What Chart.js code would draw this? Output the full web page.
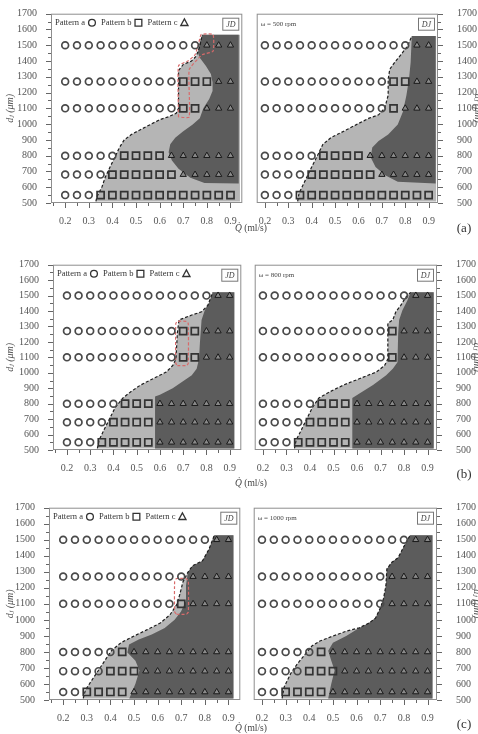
<!DOCTYPE html>
<html>
<head>
<meta charset="utf-8">
<script src="https://cdn.jsdelivr.net/npm/chart.js@4.4.0/dist/chart.umd.min.js"></script>
<style>
  html, body { margin: 0; padding: 0; background: #fff; }
  body { position: relative; width: 478px; height: 734px; overflow: hidden; font-family: "Liberation Serif", "DejaVu Serif", serif; }
  canvas { position: absolute; }
  .note { position: absolute; transform: translate(-50%, -50%); white-space: nowrap; color: #444; }
  .q { font-size: 9.5px; }
  .tag { font-size: 13px; color: #333; }
</style>
</head>
<body>
<script>
// ---- data -------------------------------------------------------------
const flowRates = [0.2, 0.25, 0.3, 0.35, 0.4, 0.45, 0.5, 0.55, 0.6, 0.65, 0.7, 0.75, 0.8, 0.85, 0.9];
const jetDiameters = [550, 680, 800, 1100, 1270, 1500];
const flowTicks = [0.2, 0.3, 0.4, 0.5, 0.6, 0.7, 0.8, 0.9];
const diameterTicks = [500, 600, 700, 800, 900, 1000, 1100, 1200, 1300, 1400, 1500, 1600, 1700];
const patternNames = ['Pattern a', 'Pattern b', 'Pattern c'];
const speedLabels = ['\u03c9 = 500 rpm', '\u03c9 = 800 rpm', '\u03c9 = 1000 rpm'];
const rowTags = ['(a)', '(b)', '(c)'];
const modeTags = ['JD', 'DJ'];

// observed pattern at each (d_j, Q): a = pattern a, b = pattern b, c = pattern c
// one string per jet diameter (same order as jetDiameters), one letter per flow rate
const jd500 = ['aaabbbbbbbbbbbb', 'aaaabbbbbbccccc', 'aaaaabbbbcccccc', 'aaaaaaaaaabbccc', 'aaaaaaaaaabbbcc', 'aaaaaaaaaaaaccc'];
const dj500 = ['aaabbbbbbbbbbbb', 'aaaabbbbbbccccc', 'aaaaabbbbcccccc', 'aaaaaaaaaaabccc', 'aaaaaaaaaaabbcc', 'aaaaaaaaaaaaacc'];
const jd800 = ['aaabbbbbccccccc', 'aaaabbbbccccccc', 'aaaaabbbccccccc', 'aaaaaaaaaabbccc', 'aaaaaaaaaabbccc', 'aaaaaaaaaaaaacc'];
const dj800 = ['aaabbbbbccccccc', 'aaaabbbbccccccc', 'aaaaabbbccccccc', 'aaaaaaaaaaabccc', 'aaaaaaaaaaabccc', 'aaaaaaaaaaaaacc'];
const jd1000 = ['aabbbbccccccccc', 'aaaabbbcccccccc', 'aaaaabccccccccc', 'aaaaaaaaaabcccc', 'aaaaaaaaaaacccc', 'aaaaaaaaaaaaacc'];
const dj1000 = ['aabbbbccccccccc', 'aaaabbbcccccccc', 'aaaaabccccccccc', 'aaaaaaaaaaacccc', 'aaaaaaaaaaacccc', 'aaaaaaaaaaaaacc'];

// dashed outer edge of the shaded band, from the bottom up, as [Q, d_j]
const jd500Edge = [[0.33, 510], [0.335, 541], [0.356, 603], [0.37, 665], [0.39, 728], [0.41, 790], [0.43, 852], [0.45, 900], [0.48, 934], [0.52, 966], [0.56, 997], [0.6, 1028], [0.64, 1048], [0.67, 1069], [0.68, 1100], [0.68, 1340], [0.70, 1378], [0.735, 1400], [0.755, 1431], [0.77, 1493], [0.78, 1566]];
const dj500Edge = [[0.34, 510], [0.346, 562], [0.373, 645], [0.40, 728], [0.428, 810], [0.448, 872], [0.482, 914], [0.537, 955], [0.591, 997], [0.646, 1038], [0.686, 1059], [0.712, 1100], [0.727, 1183], [0.727, 1286], [0.734, 1348], [0.754, 1390], [0.782, 1441], [0.809, 1493], [0.828, 1558]];
const jd800Edge = [[0.331, 510], [0.338, 563], [0.358, 626], [0.379, 689], [0.407, 774], [0.441, 837], [0.476, 879], [0.517, 921], [0.572, 963], [0.627, 1005], [0.655, 1047], [0.669, 1089], [0.675, 1258], [0.682, 1342], [0.737, 1374], [0.779, 1395], [0.806, 1437], [0.827, 1521]];
const dj800Edge = [[0.334, 510], [0.341, 563], [0.362, 626], [0.382, 689], [0.41, 774], [0.438, 837], [0.487, 879], [0.543, 921], [0.612, 963], [0.682, 1005], [0.717, 1047], [0.731, 1089], [0.731, 1321], [0.752, 1342], [0.765, 1395], [0.786, 1437], [0.807, 1489], [0.828, 1521]];
const jd1000Edge = [[0.285, 510], [0.294, 561], [0.321, 623], [0.349, 684], [0.376, 745], [0.404, 807], [0.445, 858], [0.5, 899], [0.556, 939], [0.611, 980], [0.652, 1031], [0.68, 1093], [0.693, 1154], [0.707, 1236], [0.728, 1297], [0.748, 1338], [0.79, 1369], [0.817, 1440], [0.84, 1528]];
const dj1000Edge = [[0.285, 510], [0.294, 582], [0.321, 664], [0.349, 725], [0.383, 786], [0.411, 837], [0.445, 868], [0.5, 899], [0.556, 929], [0.611, 950], [0.652, 980], [0.68, 1011], [0.7, 1072], [0.714, 1134], [0.724, 1215], [0.728, 1317], [0.748, 1358], [0.776, 1389], [0.797, 1450], [0.824, 1522], [0.826, 1528]];

// right limit of the shaded band (Q)
const bandRight = { jd500: 0.94, dj500: 0.932, jd800: 0.92, dj800: 0.926, jd1000: 0.921, dj1000: 0.921 };

// darker core region (pattern c), closed outline as [Q, d_j]
const jd500Core = [[0.78, 1566], [0.935, 1566], [0.935, 624], [0.79, 626], [0.73, 660], [0.68, 717], [0.652, 769], [0.638, 821], [0.645, 872], [0.666, 914], [0.70, 955], [0.74, 997], [0.77, 1038], [0.785, 1100], [0.81, 1160], [0.824, 1210], [0.824, 1266], [0.817, 1317], [0.796, 1369], [0.77, 1421], [0.762, 1452], [0.769, 1514]];
const dj500Core = [[0.828, 1558], [0.93, 1558], [0.93, 624], [0.768, 634], [0.714, 676], [0.673, 728], [0.652, 790], [0.659, 852], [0.686, 893], [0.727, 934], [0.768, 997], [0.79, 1079], [0.805, 1183], [0.816, 1286], [0.823, 1390]];
const jd800Core = [[0.827, 1521], [0.92, 1521], [0.92, 510], [0.579, 510], [0.579, 847], [0.6, 858], [0.655, 900], [0.696, 942], [0.737, 984], [0.758, 1026], [0.768, 1089], [0.772, 1195], [0.779, 1342], [0.793, 1405], [0.813, 1458]];
const dj800Core = [[0.828, 1521], [0.926, 1521], [0.926, 510], [0.58, 510], [0.58, 837], [0.612, 868], [0.668, 921], [0.724, 984], [0.752, 1026], [0.772, 1068], [0.775, 1258], [0.779, 1342], [0.793, 1405], [0.814, 1468]];
const jd1000Core = [[0.84, 1528], [0.921, 1528], [0.921, 510], [0.48, 510], [0.506, 602], [0.523, 684], [0.506, 745], [0.472, 796], [0.479, 847], [0.52, 878], [0.575, 909], [0.63, 950], [0.672, 1001], [0.699, 1052], [0.718, 1113], [0.72, 1215], [0.728, 1297], [0.748, 1338], [0.79, 1369], [0.817, 1440]];
const dj1000Core = [[0.826, 1528], [0.921, 1528], [0.921, 510], [0.48, 510], [0.493, 602], [0.507, 684], [0.493, 745], [0.48, 807], [0.5, 858], [0.556, 899], [0.611, 950], [0.652, 980], [0.68, 1011], [0.7, 1072], [0.714, 1134], [0.724, 1215], [0.728, 1317], [0.748, 1358], [0.776, 1389], [0.797, 1450], [0.824, 1522]];

// red dashed outlines around the transition points in the JD panels
const jd500Mark = [[0.68, 1045], [0.68, 1370], [0.72, 1400], [0.75, 1440], [0.765, 1510], [0.776, 1568], [0.826, 1568], [0.826, 1462], [0.78, 1440], [0.765, 1418], [0.725, 1345], [0.725, 1045], [0.68, 1045]];
const jd800Mark = [[0.675, 1047], [0.715, 1047], [0.722, 1062], [0.722, 1318], [0.715, 1333], [0.675, 1333], [0.668, 1318], [0.668, 1062], [0.675, 1047]];
const jd1000Mark = [[0.68, 1035], [0.722, 1035], [0.73, 1050], [0.73, 1240], [0.72, 1258], [0.68, 1258], [0.672, 1240], [0.672, 1050], [0.68, 1035]];

// ---- layout -------------------------------------------------------------
const rows = [
  { top: 10,  bottom: 203, L: [51, 247], R: [250, 438], titleY: 228, tagY: 228 },
  { top: 261, bottom: 450, L: [53, 246], R: [248, 437], titleY: 483, tagY: 474 },
  { top: 504, bottom: 700, L: [49, 245], R: [247, 437], titleY: 728, tagY: 724 }
];
const panels = [
  [{ grid: jd500, edge: jd500Edge, core: jd500Core, mark: jd500Mark, right: bandRight.jd500 },
   { grid: dj500, edge: dj500Edge, core: dj500Core, mark: null, right: bandRight.dj500 }],
  [{ grid: jd800, edge: jd800Edge, core: jd800Core, mark: jd800Mark, right: bandRight.jd800 },
   { grid: dj800, edge: dj800Edge, core: dj800Core, mark: null, right: bandRight.dj800 }],
  [{ grid: jd1000, edge: jd1000Edge, core: jd1000Core, mark: jd1000Mark, right: bandRight.jd1000 },
   { grid: dj1000, edge: dj1000Edge, core: dj1000Core, mark: null, right: bandRight.dj1000 }]
];

const SERIF = '"Liberation Serif", "DejaVu Serif", serif';
const LIGHT = '#b5b5b5';
const DARK = '#5c5c5c';
const FRAME = '#8e8e8e';
const TEXT = '#555';

const xy = pts => pts.map(p => ({ x: p[0], y: p[1] }));
function pick(grid, code) {
  const out = [];
  grid.forEach((row, i) => [...row].forEach((c, j) => {
    if (c === code) out.push({ x: flowRates[j], y: jetDiameters[i] });
  }));
  return out;
}

function drawSymbol(ctx, kind, x, y) {
  ctx.save();
  ctx.strokeStyle = '#333';
  ctx.lineWidth = 1.3;
  ctx.beginPath();
  if (kind === 0) {
    ctx.arc(x, y, 3.4, 0, Math.PI * 2);
  } else if (kind === 1) {
    ctx.rect(x - 3.4, y - 3.4, 6.8, 6.8);
  } else {
    ctx.moveTo(x, y - 3.8);
    ctx.lineTo(x + 3.6, y + 2.8);
    ctx.lineTo(x - 3.6, y + 2.8);
    ctx.closePath();
  }
  ctx.stroke();
  ctx.restore();
}

// frame, outward tick marks and in-plot annotations
const framePlugin = {
  id: 'frame',
  afterDatasetsDraw(chart, args, opts) {
    const { ctx, chartArea: a, scales: { x, y } } = chart;
    ctx.save();
    ctx.strokeStyle = FRAME;
    ctx.lineWidth = 1;
    ctx.strokeRect(a.left + 0.5, a.top + 0.5, a.right - a.left - 1, a.bottom - a.top - 1);

    ctx.strokeStyle = '#666';
    ctx.beginPath();
    const ys = [];
    diameterTicks.forEach((v, i) => {
      ys.push([v, 5]);
      if (i < diameterTicks.length - 1) ys.push([(v + diameterTicks[i + 1]) / 2, 3]);
    });
    ys.forEach(([v, len]) => {
      const py = Math.round(y.getPixelForValue(v)) + 0.5;
      if (opts.side === 'left') { ctx.moveTo(a.left, py); ctx.lineTo(a.left - len, py); }
      else { ctx.moveTo(a.right, py); ctx.lineTo(a.right + len, py); }
    });
    const xs = [];
    flowTicks.forEach(v => {
      xs.push([v, 5]);
      xs.push([v - 0.05, 3]);
    });
    xs.push([flowTicks[flowTicks.length - 1] + 0.05, 3]);
    xs.forEach(([v, len]) => {
      if (v < x.min || v > x.max) return;
      const px = Math.round(x.getPixelForValue(v)) + 0.5;
      ctx.moveTo(px, a.bottom); ctx.lineTo(px, a.bottom + len);
    });
    ctx.stroke();

    // mode box (JD / DJ)
    ctx.strokeStyle = '#777';
    ctx.strokeRect(a.right - 19.5, a.top + 4.5, 16, 12);
    ctx.fillStyle = '#444';
    ctx.font = 'italic 8px ' + SERIF;
    ctx.textAlign = 'center';
    ctx.textBaseline = 'middle';
    ctx.fillText(opts.mode, a.right - 11.5, a.top + 11);

    ctx.textAlign = 'left';
    if (opts.side === 'left') {
      ctx.font = '8.5px ' + SERIF;
      ctx.fillStyle = '#333';
      let px = a.left + 4;
      const py = a.top + 9;
      patternNames.forEach((name, k) => {
        ctx.fillText(name, px, py);
        px += ctx.measureText(name).width + 7;
        drawSymbol(ctx, k, px, py);
        px += 9;
      });
    } else {
      ctx.font = '7px ' + SERIF;
      ctx.fillStyle = '#444';
      ctx.fillText(opts.speed, a.left + 4, a.top + 10);
    }
    ctx.restore();
  }
};

function addPanel(rowIdx, side) {
  const row = rows[rowIdx];
  const spec = panels[rowIdx][side === 'left' ? 0 : 1];
  const span = side === 'left' ? row.L : row.R;
  const axisW = side === 'left' ? span[0] : 46;
  const padTop = 3;
  const xH = 26;
  const canvas = document.createElement('canvas');
  const w = side === 'left' ? span[1] + 2 : (span[1] - span[0]) + axisW;
  const h = (row.bottom - row.top) + padTop + xH;
  canvas.width = w; canvas.height = h;
  canvas.style.width = w + 'px'; canvas.style.height = h + 'px';
  canvas.style.left = (side === 'left' ? 0 : span[0]) + 'px';
  canvas.style.top = (row.top - padTop) + 'px';
  document.body.appendChild(canvas);

  const band = spec.edge.concat([[spec.right, spec.edge[spec.edge.length - 1][1]], [spec.right, spec.edge[0][1]]]);
  const datasets = [
    { label: 'band', data: xy(band), showLine: true, fill: 'shape', backgroundColor: LIGHT, borderColor: 'rgba(0,0,0,0)', borderWidth: 0, pointRadius: 0, order: 10 },
    { label: 'core', data: xy(spec.core), showLine: true, fill: 'shape', backgroundColor: DARK, borderColor: 'rgba(0,0,0,0)', borderWidth: 0, pointRadius: 0, order: 9 },
    { label: 'edge', data: xy(spec.edge), showLine: true, fill: false, borderColor: '#1e1e1e', borderWidth: 1.2, borderDash: [3, 2], pointRadius: 0, order: 8 },
    { label: patternNames[0], data: pick(spec.grid, 'a'), pointStyle: 'circle', pointRadius: 3.4, pointBorderWidth: 1.7, pointBorderColor: '#4a4a4a', pointBackgroundColor: 'rgba(255,255,255,0)', order: 3 },
    { label: patternNames[1], data: pick(spec.grid, 'b'), pointStyle: 'rect', pointRadius: 5, pointBorderWidth: 1.7, pointBorderColor: '#333', pointBackgroundColor: 'rgba(0,0,0,0)', order: 2 },
    { label: patternNames[2], data: pick(spec.grid, 'c'), pointStyle: 'triangle', pointRadius: 3.6, pointBorderWidth: 1, pointBorderColor: '#1a1a1a', pointBackgroundColor: '#8a8a8a', order: 1 }
  ];
  if (spec.mark) {
    datasets.push({ label: 'mark', data: xy(spec.mark), showLine: true, fill: false, borderColor: '#d86a6a', borderWidth: 1.2, borderDash: [3, 2], pointRadius: 0, tension: 0.15, order: 7 });
  }

  new Chart(canvas, {
    type: 'scatter',
    data: { datasets },
    plugins: [framePlugin],
    options: {
      responsive: false,
      animation: false,
      devicePixelRatio: 1,
      events: [],
      layout: { padding: { top: padTop, right: side === 'left' ? 2 : 0, left: 0, bottom: 0 } },
      plugins: {
        legend: { display: false },
        tooltip: { enabled: false },
        frame: { side, mode: modeTags[side === 'left' ? 0 : 1], speed: speedLabels[rowIdx] }
      },
      scales: {
        x: {
          type: 'linear',
          min: side === 'left' ? 0.14 : 0.165,
          max: side === 'left' ? 0.95 : 0.94,
          afterBuildTicks: s => { s.ticks = flowTicks.map(v => ({ value: v })); },
          afterFit: s => { s.height = xH; s.paddingLeft = 0; s.paddingRight = 0; },
          grid: { display: false },
          border: { display: false },
          ticks: { autoSkip: false, maxRotation: 0, padding: 4, color: TEXT, font: { family: SERIF, size: 10 }, callback: v => v.toFixed(1) }
        },
        y: {
          type: 'linear',
          position: side,
          min: 500,
          max: 1700,
          afterBuildTicks: s => { s.ticks = diameterTicks.map(v => ({ value: v })); },
          afterFit: s => { s.width = axisW; s.paddingTop = 0; s.paddingBottom = 0; },
          grid: { display: false },
          border: { display: false },
          ticks: { autoSkip: false, padding: side === 'left' ? 6 : 11, color: TEXT, font: { family: SERIF, size: 10 }, callback: v => String(v) },
          title: { display: true, text: 'd\u2c7c (\u03bcm)', color: TEXT, font: { family: SERIF, size: 10, style: 'italic' }, padding: { top: side === 'left' ? 4 : 0, bottom: 0 } }
        }
      }
    }
  });
}

rows.forEach((row, i) => {
  addPanel(i, 'left');
  addPanel(i, 'right');
  const q = document.createElement('div');
  q.className = 'note q';
  q.innerHTML = '<i>Q\u0307</i> (ml/s)';
  q.style.left = '251px';
  q.style.top = row.titleY + 'px';
  document.body.appendChild(q);
  const t = document.createElement('div');
  t.className = 'note tag';
  t.textContent = rowTags[i];
  t.style.left = '464px';
  t.style.top = row.tagY + 'px';
  document.body.appendChild(t);
});
</script>
</body>
</html>
